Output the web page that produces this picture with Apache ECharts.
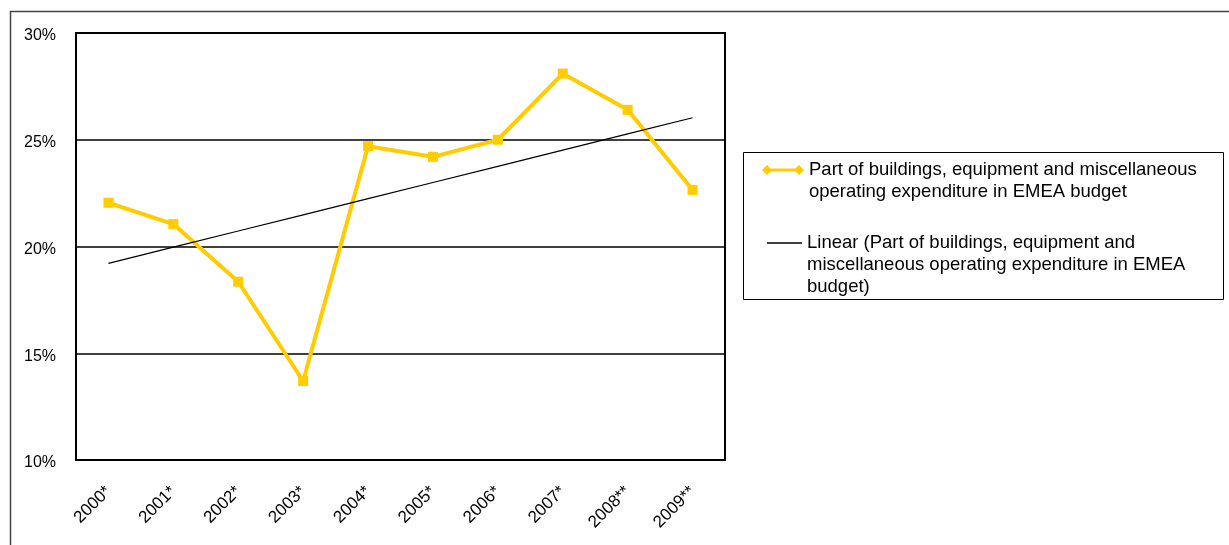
<!DOCTYPE html>
<html>
<head>
<meta charset="utf-8">
<script src="https://cdn.jsdelivr.net/npm/echarts@6/dist/echarts.min.js"></script>
<style>
  html, body { margin: 0; padding: 0; background: #fff; }
  #chart { width: 1229px; height: 545px; }
</style>
</head>
<body>
<div id="chart"></div>
<script>
// Share of buildings, equipment and misc. operating expenditure in the EMEA budget (%)
const years = ['2000*', '2001*', '2002*', '2003*', '2004*', '2005*', '2006*', '2007*', '2008**', '2009**'];
const shareValues = [22.05, 21.05, 18.35, 13.7, 24.7, 24.2, 25.0, 28.1, 26.4, 22.65];
const yTicks = { min: 10, max: 30, step: 5 };

const seriesName = 'Part of buildings, equipment and miscellaneous operating expenditure in EMEA budget';
const trendName = 'Linear (Part of buildings, equipment and miscellaneous operating expenditure in EMEA budget)';

// Legend labels as wrapped lines
const seriesLegendLines = ['Part of buildings, equipment and miscellaneous', 'operating expenditure in EMEA budget'];
const trendLegendLines = ['Linear (Part of buildings, equipment and', 'miscellaneous operating expenditure in EMEA', 'budget)'];

// Least-squares linear trend over the category index
function linearTrend(values) {
  const n = values.length;
  let sx = 0, sy = 0, sxy = 0, sxx = 0;
  values.forEach((v, i) => { sx += i; sy += v; sxy += i * v; sxx += i * i; });
  const slope = (n * sxy - sx * sy) / (n * sxx - sx * sx);
  const intercept = (sy - slope * sx) / n;
  return values.map((_, i) => +(intercept + slope * i).toFixed(3));
}
const trendValues = linearTrend(shareValues);

// Legend text is centred on its icon; leading blank lines keep the icon level
// with the first line of a wrapped label.
function topAligned(lines) {
  const pad = new Array(lines.length - 1).fill('');
  return pad.concat(lines).join('\n');
}

const FONT = '"Liberation Sans", Arial, sans-serif';
const LEGEND_LH = 22;
const chart = echarts.init(document.getElementById('chart'), null, { renderer: 'canvas' });

chart.setOption({
  animation: false,
  backgroundColor: '#ffffff',
  textStyle: { fontFamily: FONT },
  graphic: [
    // outer chart frame
    { type: 'rect', silent: true, z: -1,
      shape: { x: 10.5, y: 11.5, width: 1400, height: 700 },
      style: { fill: 'none', stroke: '#444', lineWidth: 1.5 } },
    // legend frame
    { type: 'rect', silent: true,
      shape: { x: 743.5, y: 152.5, width: 480, height: 147 },
      style: { fill: '#fff', stroke: '#000', lineWidth: 1 }, z: 0 }
  ],
  grid: {
    left: 76, top: 33, right: 504, bottom: 85,
    show: true, borderColor: '#000', borderWidth: 2, backgroundColor: 'transparent'
  },
  xAxis: {
    type: 'category',
    data: years,
    boundaryGap: true,
    axisLine: { show: false },
    axisTick: { show: false },
    axisLabel: {
      rotate: 45, margin: 29, color: '#000', fontSize: 17, fontFamily: FONT, interval: 0
    },
    splitLine: { show: false }
  },
  yAxis: {
    type: 'value',
    min: yTicks.min, max: yTicks.max, interval: yTicks.step,
    axisLine: { show: false },
    axisTick: { show: false },
    axisLabel: {
      formatter: (v) => '{v|' + v + '%}', margin: 20, color: '#000', fontSize: 16, fontFamily: FONT,
      rich: { v: { fontSize: 16, fontFamily: FONT, color: '#000', padding: [6, 0, 0, 0] } }
    },
    splitLine: { show: true, lineStyle: { color: '#000', width: 1.5 } }
  },
  legend: [
    {
      data: [{
        name: seriesName,
        icon: 'path://M0,5 L5,0 L10,5 L5,10 Z M5,3.6 L37,3.6 L37,6.4 L5,6.4 Z M32,5 L37,0 L42,5 L37,10 Z'
      }],
      left: 762, top: 170 - (seriesLegendLines.length * 2 - 1) * LEGEND_LH / 2, padding: 0,
      itemWidth: 42, itemHeight: 10, itemGap: 0,
      selectedMode: false, z: 5,
      itemStyle: { borderWidth: 0 },
      formatter: () => topAligned(seriesLegendLines),
      textStyle: { fontSize: 18.5, lineHeight: LEGEND_LH, color: '#000', fontFamily: FONT }
    },
    {
      data: [{
        name: trendName,
        icon: 'path://M0,0 L35,0 L35,1.6 L0,1.6 Z'
      }],
      left: 767, top: 243 - (trendLegendLines.length * 2 - 1) * LEGEND_LH / 2, padding: 0,
      itemWidth: 35, itemHeight: 10, itemGap: 0,
      selectedMode: false, z: 5,
      itemStyle: { borderWidth: 0 },
      formatter: () => topAligned(trendLegendLines),
      textStyle: { fontSize: 18.5, lineHeight: LEGEND_LH, color: '#000', fontFamily: FONT }
    }
  ],
  series: [
    {
      name: seriesName,
      type: 'line',
      data: shareValues,
      color: '#FFCC00',
      symbol: 'rect',
      symbolSize: 10,
      lineStyle: { color: '#FFCC00', width: 4 },
      itemStyle: { color: '#FFCC00', borderWidth: 0 },
      z: 3
    },
    {
      name: trendName,
      type: 'line',
      data: trendValues,
      color: '#000',
      symbol: 'none',
      lineStyle: { color: '#000', width: 1.2 },
      z: 4
    }
  ]
});
</script>
</body>
</html>
